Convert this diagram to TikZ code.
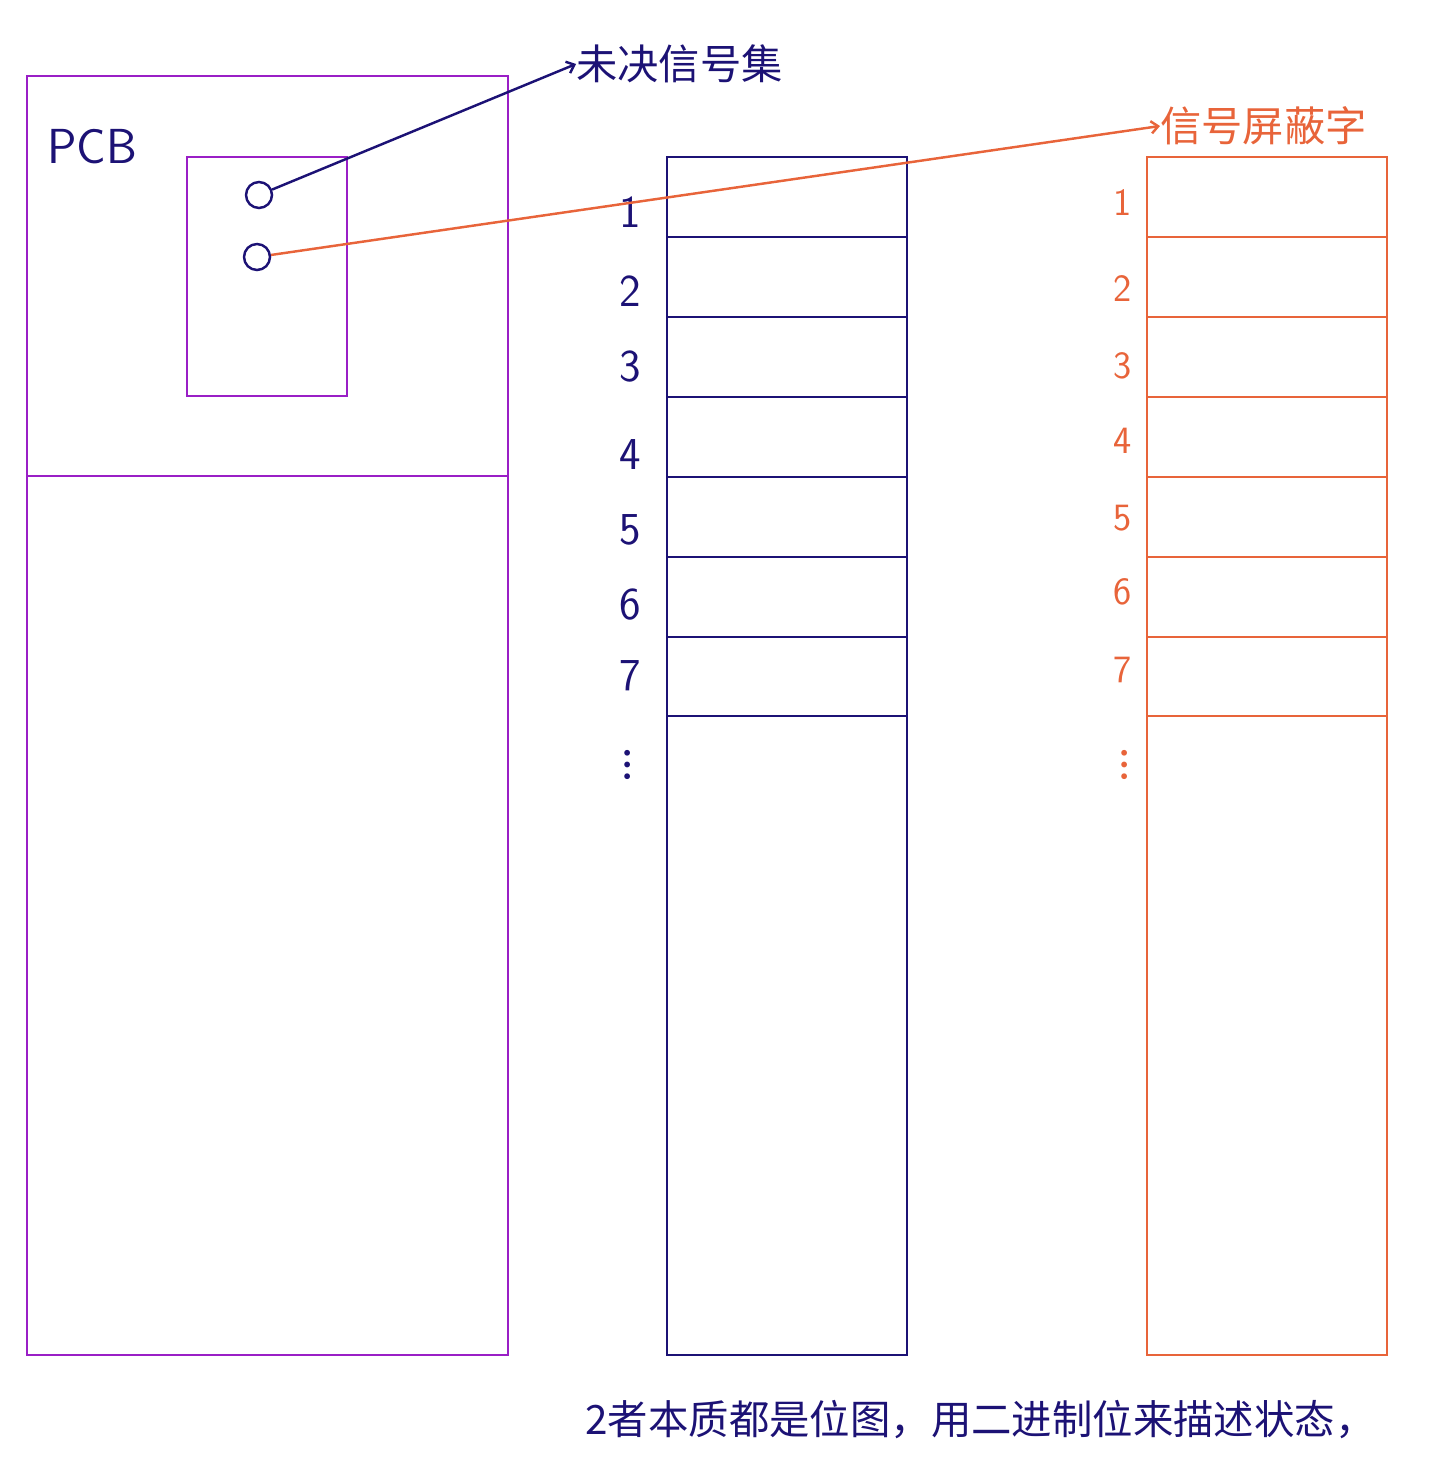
\documentclass[tikz,border=0pt]{standalone}
\usepackage{fontspec}
\newfontfamily\cjk{Noto Sans CJK SC}
\usetikzlibrary{arrows.meta}
\definecolor{pcbpurple}{HTML}{9A1FC6}
\definecolor{navyink}{HTML}{1C1275}
\definecolor{orangeink}{HTML}{E8643A}
\begin{document}
\begin{tikzpicture}[x=0.02cm,y=-0.02cm,
  pcbbox/.style={draw=pcbpurple,line width=1.6pt},
  navybox/.style={draw=navyink,line width=1.6pt},
  orangebox/.style={draw=orangeink,line width=1.6pt},
  slot/.style={circle,draw=navyink,line width=1.4pt,minimum size=0.52cm,inner sep=0pt},
  navynum/.style={text=navyink,font=\fontsize{26}{28}\selectfont\sffamily,inner sep=0pt},
  orangenum/.style={text=orangeink,font=\fontsize{22}{24}\selectfont\sffamily,inner sep=0pt},
  dotsmark/.style={font=\fontsize{40}{42}\selectfont,inner sep=0pt,rotate=90},
  conn/.style={line width=1.4pt,-{Straight Barb[length=4pt,width=7pt]}},
  lbl/.style={font=\cjk\fontsize{23.5}{25}\selectfont,inner sep=0pt,anchor=west}]
\useasboundingbox (0,0) rectangle (1437,1477);
% PCB
\draw[pcbbox] (27,76) rectangle (508,1355);
\draw[pcbbox] (27,476) -- (508,476);
\draw[pcbbox] (187,157) rectangle (347,396);
\node[text=navyink,font=\fontsize{28}{30}\selectfont\sffamily,inner sep=0pt] (pcb) at (92,147) {PCB};
\node[slot] (c1) at (259,195) {};
\node[slot] (c2) at (257,257) {};
% navy table
\draw[navybox] (667,157) rectangle (907,1355);
\foreach \y in {237,317,397,477,557,637,716} \draw[navybox] (667,\y) -- (907,\y);
% orange table
\draw[orangebox] (1147,157) rectangle (1387,1355);
\foreach \y in {237,317,397,477,557,637,716} \draw[orangebox] (1147,\y) -- (1387,\y);
% numbers
\foreach \n/\y in {1/212,2/291,3/367,4/455,5/530,6/605,7/676}
  \node[navynum] (n\n) at (630,\y) {\n};
\node[dotsmark,text=navyink] (ndots) at (628,765) {\dots};
\foreach \n/\y in {1/203,2/289,3/366,4/441,5/518,6/592,7/670}
  \node[orangenum] (o\n) at (1123,\y) {\n};
\node[dotsmark,text=orangeink] (odots) at (1125,765) {\dots};
% labels
\node[lbl,text=navyink] (pending) at (576,64) {未决信号集};
\node[lbl,text=orangeink] (mask) at (1160,126) {信号屏蔽字};
\node[font=\cjk\fontsize{23}{25}\selectfont,text=navyink,inner sep=0pt,anchor=west] (note) at (585,1420) {2者本质都是位图，用二进制位来描述状态，};
% connectors
\draw[conn,draw=navyink] (c1) -- (pending.west);
\draw[conn,draw=orangeink] (c2) -- (mask.west);
\end{tikzpicture}
\end{document}
